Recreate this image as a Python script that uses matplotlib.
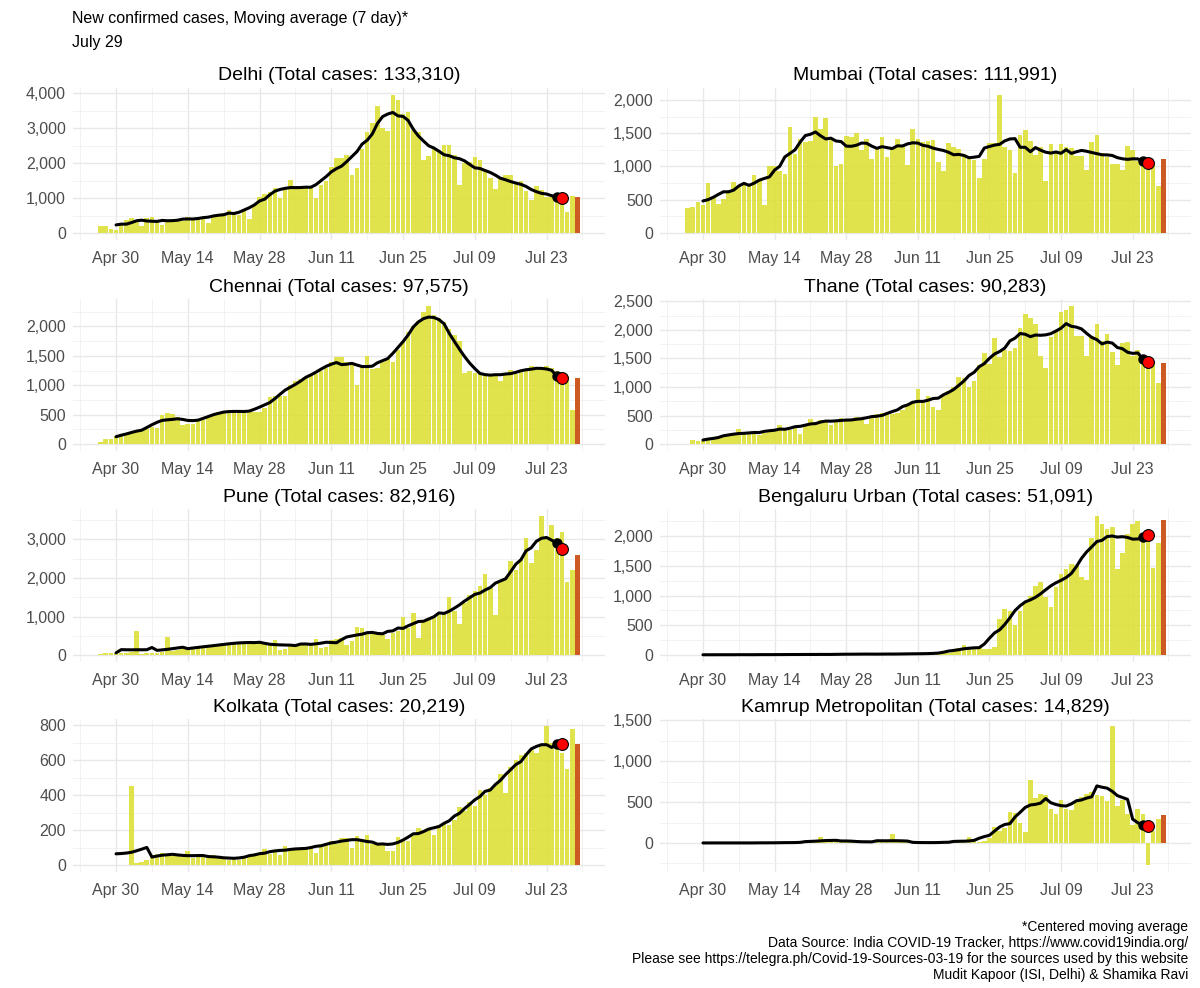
import pandas as pd
import numpy as np
import matplotlib
matplotlib.use('Agg')
import matplotlib.pyplot as plt
from matplotlib.ticker import MultipleLocator, FuncFormatter

plt.rcParams['font.family'] = ['Liberation Sans', 'DejaVu Sans']

# daily new cases, Apr 27 .. Jul 29 (last day drawn in orange)
dates = pd.date_range('2020-04-27', '2020-07-29', freq='D')

delhi = [190, 206, 125, 76, 223, 384, 427,
         349, 206, 428, 448, 338, 224, 381,
         310, 406, 359, 472, 425, 438, 422,
         299, 500, 534, 571, 660, 591, 508,
         635, 412, 792, 1024, 1106, 1163, 1295,
         990, 1298, 1513, 1359, 1330, 1320, 1282,
         1007, 1366, 1501, 1877, 2137, 2134, 2224,
         1647, 1859, 2414, 2877, 3137, 3630, 3000,
         2909, 3947, 3788, 3390, 3460, 2948, 2889,
         2084, 2199, 2442, 2373, 2520, 2505, 2244,
         1379, 2008, 2033, 2187, 2089, 1781, 1573,
         1246, 1606, 1647, 1652, 1462, 1475, 1211,
         954, 1349, 1227, 1041, 1025, 1142, 1075,
         613, 1056, 1035]

mumbai = [370, 390, 465, 415, 750, 545, 440,
          510, 635, 770, 690, 750, 720, 875,
          790, 425, 1000, 1000, 935, 885, 1590,
          1185, 1410, 1370, 1380, 1750, 1565, 1725,
          1430, 1000, 1045, 1465, 1450, 1505, 1245,
          1415, 1110, 1275, 1440, 1150, 1275, 1420,
          1310, 1015, 1565, 1420, 1375, 1385, 1395,
          1065, 925, 1360, 1290, 1265, 1195, 1135,
          1100, 820, 1115, 1350, 1350, 2075, 1290,
          1250, 900, 1480, 1550, 1380, 1170, 1290,
          780, 1340, 1200, 1340, 1290, 1280, 1160,
          1160, 950, 1370, 1480, 1200, 1150, 1040,
          1040, 940, 1310, 1250, 1080, 1090, 1100,
          1030, 700, 1110]

chennai = [40, 85, 85, 130, 160, 180, 200,
           215, 235, 260, 290, 275, 500, 530,
           505, 460, 330, 340, 350, 420, 410,
           480, 520, 540, 560, 570, 580, 560,
           540, 540, 540, 550, 620, 800, 810,
           815, 810, 1010, 1070, 1115, 1145, 1150,
           1200, 1250, 1300, 1400, 1480, 1480, 1400,
           1400, 1000, 1350, 1500, 1280, 1300, 1400,
           1450, 1400, 1600, 1750, 1900, 2000, 2100,
           2250, 2350, 2200, 2140, 2080, 1950, 1850,
           1755, 1215, 1240, 1210, 1200, 1170, 1200,
           1170, 1080, 1180, 1260, 1200, 1250, 1250,
           1320, 1270, 1300, 1330, 1300, 1240, 1180,
           1160, 580, 1130]

thane = [10, 70, 60, 55, 80, 100, 120,
         130, 150, 170, 270, 180, 200, 190,
         160, 200, 220, 260, 330, 280, 250,
         300, 180, 350, 440, 380, 420, 400,
         340, 380, 460, 430, 420, 470, 440,
         360, 470, 520, 550, 560, 520, 540,
         600, 700, 720, 960, 760, 850, 650,
         590, 850, 930, 1000, 1170, 1150, 1000,
         1100, 1380, 1600, 1400, 1860, 1530, 1650,
         1630, 1680, 2030, 2270, 2200, 2100, 1550,
         1340, 1880, 2000, 2320, 2350, 2420, 1900,
         1900, 1550, 1900, 2100, 1800, 1930, 1620,
         1380, 1770, 1790, 1550, 1650, 1500, 1480,
         1430, 1070, 1420]

pune = [40, 60, 60, 50, 60, 60, 70,
        620, 40, 50, 60, 60, 70, 470,
        100, 130, 150, 180, 190, 200, 210,
        220, 240, 260, 280, 300, 310, 320,
        330, 330, 340, 320, 330, 290, 380,
        140, 160, 270, 280, 300, 270, 300,
        420, 170, 200, 380, 420, 440, 250,
        370, 740, 690, 560, 600, 580, 520,
        420, 560, 620, 1000, 690, 1100, 450,
        900, 950, 1000, 1050, 1100, 1500, 1150,
        810, 1350, 1550, 1650, 1800, 2110, 1750,
        1050, 1900, 2000, 2450, 2200, 2500, 3050,
        2400, 2720, 3610, 3000, 3380, 3050, 3200,
        1900, 2200, 2600]

bengaluru = [5, 8, 3, 5, 4, 6, 3,
             5, 8, 6, 4, 5, 6, 8,
             7, 5, 6, 10, 8, 6, 9,
             10, 8, 10, 12, 9, 11, 8,
             10, 15, 8, 12, 20, 18, 15,
             12, 18, 15, 14, 17, 16, 20,
             18, 16, 20, 22, 25, 26, 25,
             25, 30, 40, 60, 120, 170, 100,
             110, 140, 100, 110, 140, 600, 780,
             740, 500, 740, 890, 990, 1170, 1230,
             980, 800, 1150, 1370, 1450, 1530, 1520,
             1310, 1270, 1970, 2340, 2210, 2120, 2150,
             1450, 1710, 2040, 2210, 2260, 2030, 1950,
             1470, 1890, 2270]

kolkata = [0, 0, 0, 0, 0, 0, 450,
           10, 20, 30, 60, 65, 70, 65,
           50, 55, 45, 80, 40, 50, 55,
           50, 60, 45, 40, 30, 35, 30,
           40, 50, 60, 70, 90, 65, 80,
           60, 110, 90, 90, 100, 95, 100,
           70, 120, 125, 140, 120, 155, 155,
           100, 165, 150, 170, 120, 120, 115,
           80, 80, 160, 150, 140, 180, 210,
           200, 210, 170, 230, 240, 230, 260,
           330, 310, 360, 340, 430, 400, 440,
           460, 520, 410, 560, 600, 630, 640,
           660, 640, 680, 795, 700, 700, 640,
           550, 780, 690]

kamrup = [0, 0, 0, 0, 1, 0, 0,
          0, 2, 0, 0, 0, 1, 0,
          0, 0, 3, 5, 0, 4, 2,
          6, 8, 5, 10, 15, 70, 20,
          25, 35, 30, 20, 25, 15, 20,
          10, 5, 10, 15, 20, 110, 15,
          10, 12, 8, 5, 0, 2, 0,
          5, 10, 8, 12, 15, 10, 70,
          20, 15, 30, 60, 200, 150, 180,
          380, 370, 240, 130, 770, 550, 600,
          590, 420, 350, 520, 410, 400, 500,
          560, 600, 620, 590, 570, 510, 1430,
          450, 520, 350, 220, 410, 350, -270,
          150, 290, 340]

cities = ['Delhi', 'Mumbai', 'Chennai', 'Thane', 'Pune', 'Bengaluru Urban',
          'Kolkata', 'Kamrup Metropolitan']
totals = [133310, 111991, 97575, 90283, 82916, 51091, 20219, 14829]
series = [delhi, mumbai, chennai, thane, pune, bengaluru, kolkata, kamrup]
ystep = [1000, 500, 500, 500, 1000, 500, 200, 500]

W, H = 1200, 988
fig = plt.figure(figsize=(12, 9.88), dpi=100)

cols = [(73, 605), (660, 1191)]
rows = [(88, 240), (299, 451), (509, 662), (719, 872)]

major = pd.date_range('2020-04-30', '2020-07-23', freq='14D')
minor = pd.date_range('2020-04-23', '2020-07-30', freq='14D')

for k in range(8):
    x0, x1 = cols[k % 2]
    y0, y1 = rows[k // 2]
    ax = fig.add_axes([x0 / W, 1 - y1 / H, (x1 - x0) / W, (y1 - y0) / H])
    vals = np.array(series[k], dtype=float)

    ax.bar(dates[:-1], vals[:-1], width=0.9, color='#dcdf2c', alpha=0.85, zorder=2)
    ax.bar(dates[-1:], vals[-1:], width=0.9, color='#cc5a22', zorder=2)

    ma = pd.Series(vals).rolling(7, center=True).mean()
    ax.plot(dates, ma, color='black', lw=2.2, zorder=3, solid_capstyle='round')
    last = ma.last_valid_index()
    ax.plot(dates[last - 1], ma[last - 1], 'o', color='black', ms=6.5, zorder=4)
    ax.plot(dates[last], ma[last], 'o', mfc='red', mec='black', mew=0.8, ms=8.5, zorder=5)

    lo, hi = min(0, vals.min()), vals.max()
    pad = 0.05 * (hi - lo)
    ax.set_ylim(lo - pad, hi + pad)
    ax.set_xlim(dates[0] - pd.Timedelta(days=5.4), dates[-1] + pd.Timedelta(days=5.4))

    ax.set_xticks(major)
    ax.set_xticklabels([d.strftime('%b %d') for d in major])
    ax.set_xticks(minor, minor=True)
    ax.yaxis.set_major_locator(MultipleLocator(ystep[k]))
    ax.yaxis.set_minor_locator(MultipleLocator(ystep[k] / 2))
    ax.yaxis.set_major_formatter(FuncFormatter(lambda v, p: f'{int(round(v)):,}'))

    ax.grid(True, which='major', color='#e8e8e8', lw=1.0, zorder=0)
    ax.grid(True, which='minor', color='#f0f0f0', lw=0.6, zorder=0)
    ax.set_axisbelow(True)
    for s in ax.spines.values():
        s.set_visible(False)
    ax.tick_params(which='both', length=0, labelsize=11.5, labelcolor='#4d4d4d')
    ax.tick_params(axis='x', pad=8)
    ax.tick_params(axis='y', pad=5)

    fig.text((x0 + x1) / 2 / W, 1 - (y0 - 12) / H,
             f'{cities[k]} (Total cases: {totals[k]:,})',
             ha='center', va='center', fontsize=14)

fig.text(72 / W, 1 - 18 / H, 'New confirmed cases, Moving average (7 day)*',
         ha='left', va='center', fontsize=11.5)
fig.text(72 / W, 1 - 43 / H, 'July 29', ha='left', va='center', fontsize=11.5)

caption = ['*Centered moving average',
           'Data Source: India COVID-19 Tracker, https://www.covid19india.org/',
           'Please see https://telegra.ph/Covid-19-Sources-03-19 for the sources used by this website',
           'Mudit Kapoor (ISI, Delhi) & Shamika Ravi']
for i, line in enumerate(caption):
    fig.text(1188 / W, 1 - (927 + 16 * i) / H, line, ha='right', va='center', fontsize=10)

fig.savefig('out.png', dpi=100, facecolor='white')
